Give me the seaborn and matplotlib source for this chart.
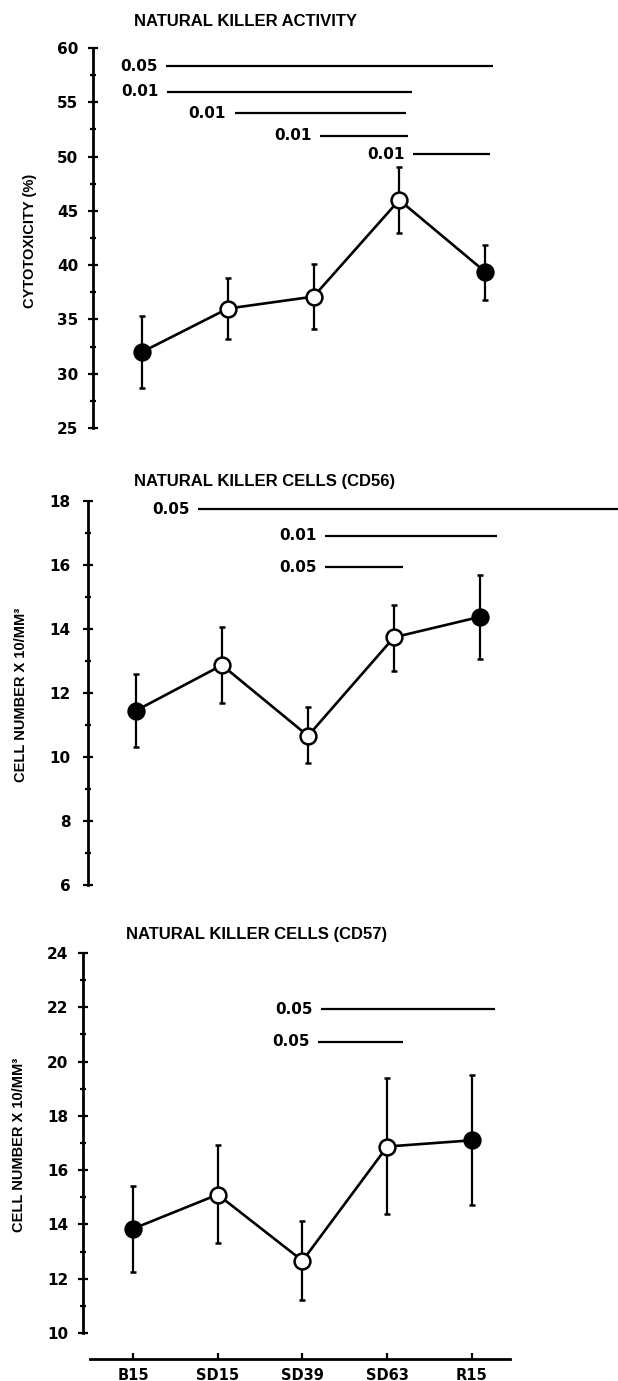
import matplotlib
matplotlib.use("Agg")
import matplotlib.pyplot as plt
from matplotlib import font_manager
from matplotlib.ticker import MultipleLocator
import seaborn as sns
import pandas as pd

# ---------------- data ----------------
categories = ["B15", "SD15", "SD39", "SD63", "R15"]
filled = [True, False, False, False, True]

nk_activity = [32.0, 36.0, 37.1, 46.0, 39.4]
nk_activity_lo = [28.7, 33.2, 34.1, 43.0, 36.8]
nk_activity_hi = [35.3, 38.8, 40.1, 49.0, 41.9]

cd56 = [11.45, 12.87, 10.66, 13.74, 14.38]
cd56_lo = [10.3, 11.7, 9.8, 12.7, 13.05]
cd56_hi = [12.6, 14.05, 11.55, 14.75, 15.7]

cd57 = [13.84, 15.1, 12.66, 16.87, 17.1]
cd57_lo = [12.23, 13.3, 11.2, 14.37, 14.73]
cd57_hi = [15.4, 16.93, 14.12, 19.39, 19.5]

# significance bars: p label, level, start and end (in category units)
top_sig_p = ["0.05", "0.01", "0.01", "0.01", "0.01"]
top_sig_y = [58.3, 55.95, 54.0, 51.9, 50.2]
top_sig_x0 = [0.28, 0.29, 1.08, 2.08, 3.16]
top_sig_x1 = [4.09, 3.15, 3.08, 3.10, 4.06]

mid_sig_p = ["0.05", "0.01", "0.05"]
mid_sig_y = [17.75, 16.92, 15.93]
mid_sig_x0 = [0.72, 2.2, 2.2]
mid_sig_x1 = [5.6, 4.2, 3.1]

bot_sig_p = ["0.05", "0.05"]
bot_sig_y = [21.93, 20.73]
bot_sig_x0 = [2.22, 2.18]
bot_sig_x1 = [4.27, 3.19]

titles = ["NATURAL KILLER ACTIVITY", "NATURAL KILLER CELLS (CD56)", "NATURAL KILLER CELLS (CD57)"]
ylabels = ["CYTOTOXICITY (%)", "CELL NUMBER X 10/MM\u00b3", "CELL NUMBER X 10/MM\u00b3"]

# ---------------- style ----------------
sns.set_theme(style="white")
names = {f.name for f in font_manager.fontManager.ttflist}
narrow = "Liberation Sans Narrow" if "Liberation Sans Narrow" in names else "Liberation Sans"
plt.rcParams["font.family"] = ["DejaVu Sans"]
plt.rcParams["font.weight"] = "bold"
plt.rcParams["text.color"] = "black"
plt.rcParams["axes.labelcolor"] = "black"
plt.rcParams["xtick.color"] = "black"
plt.rcParams["ytick.color"] = "black"

W, H = 618, 1381
fig = plt.figure(figsize=(W / 100, H / 100), dpi=100)
fig.patch.set_facecolor("white")

panels = [
    dict(ax_x=93, x0=142, sp=85.75, top=48, bot=428, ylim=(25, 60), major=5, minor=2.5,
         vals=nk_activity, lo=nk_activity_lo, hi=nk_activity_hi,
         sp_p=top_sig_p, sp_y=top_sig_y, sp_x0=top_sig_x0, sp_x1=top_sig_x1,
         title_xy=(245, 22), ylab_xy=(30, 241), tickpad=7),
    dict(ax_x=88, x0=136, sp=86.0, top=501, bot=885, ylim=(6, 18), major=2, minor=1,
         vals=cd56, lo=cd56_lo, hi=cd56_hi,
         sp_p=mid_sig_p, sp_y=mid_sig_y, sp_x0=mid_sig_x0, sp_x1=mid_sig_x1,
         title_xy=(265, 482), ylab_xy=(21, 695), tickpad=9),
    dict(ax_x=83, x0=133, sp=84.75, top=953, bot=1333, ylim=(10, 24), major=2, minor=1,
         vals=cd57, lo=cd57_lo, hi=cd57_hi,
         sp_p=bot_sig_p, sp_y=bot_sig_y, sp_x0=bot_sig_x0, sp_x1=bot_sig_x1,
         title_xy=(257, 935), ylab_xy=(19, 1145), tickpad=7),
]

for i, p in enumerate(panels):
    left = p["ax_x"] / W
    width = (W - p["ax_x"]) / W
    bottom = 1 - p["bot"] / H
    height = (p["bot"] - p["top"]) / H
    ax = fig.add_axes([left, bottom, width, height])
    ax.set_facecolor("none")

    xlo = (p["ax_x"] - p["x0"]) / p["sp"]
    xhi = (W - p["x0"]) / p["sp"]
    ax.set_xlim(xlo, xhi)
    ax.set_ylim(*p["ylim"])

    pos = list(range(len(categories)))
    df = pd.DataFrame({"pos": pos, "val": p["vals"], "filled": filled})

    yerr = [[v - l for v, l in zip(p["vals"], p["lo"])],
            [h - v for v, h in zip(p["vals"], p["hi"])]]
    ax.errorbar(pos, p["vals"], yerr=yerr, fmt="none", ecolor="black",
                elinewidth=1.6, capsize=2.2, capthick=1.8, zorder=2, clip_on=False)
    sns.lineplot(data=df, x="pos", y="val", color="black", linewidth=1.9,
                 ax=ax, zorder=3, legend=False)
    for f, sub in df.groupby("filled"):
        sns.scatterplot(data=sub, x="pos", y="val", ax=ax, s=130,
                        color="black" if f else "white", edgecolor="black",
                        linewidth=1.8, zorder=4, legend=False, clip_on=False)

    for lab, yy, a, b in zip(p["sp_p"], p["sp_y"], p["sp_x0"], p["sp_x1"]):
        ax.plot([a, b], [yy, yy], color="black", linewidth=1.6, clip_on=False,
                solid_capstyle="butt")
        ax.text(a - 0.1, yy, lab, ha="right", va="center", fontsize=11,
                fontweight="bold", family=["DejaVu Sans"], color="black")

    for s in ["top", "right"]:
        ax.spines[s].set_visible(False)
    ax.spines["left"].set_linewidth(2.0)
    ax.spines["left"].set_color("black")

    ax.yaxis.set_major_locator(MultipleLocator(p["major"]))
    ax.yaxis.set_minor_locator(MultipleLocator(p["minor"]))
    ax.tick_params(axis="y", which="major", left=True, direction="inout", length=7,
                   width=1.6, labelsize=11, pad=p["tickpad"], colors="black")
    ax.tick_params(axis="y", which="minor", left=True, direction="inout", length=4,
                   width=1.6, colors="black")
    for t in ax.get_yticklabels():
        t.set_fontweight("bold")

    if i < 2:
        ax.spines["bottom"].set_visible(False)
        ax.set_xticks([])
    else:
        ax.spines["bottom"].set_position(("outward", 19))
        ax.spines["bottom"].set_linewidth(2.0)
        ax.spines["bottom"].set_color("black")
        ax.spines["bottom"].set_bounds((90 - p["x0"]) / p["sp"], (510 - p["x0"]) / p["sp"])
        ax.set_xticks(pos)
        ax.set_xticklabels(categories, fontweight="bold")
        ax.tick_params(axis="x", which="major", bottom=True, direction="in", length=4,
                       width=1.6, labelsize=10.5, pad=6, colors="black")
    ax.set_xlabel("")
    ax.set_ylabel("")

    tx, ty = p["title_xy"]
    fig.text(tx / W, 1 - ty / H, titles[i], ha="center", va="center",
             fontsize=12, fontweight="bold", family=[narrow, "DejaVu Sans"], color="black")
    lx, ly = p["ylab_xy"]
    fig.text(lx / W, 1 - ly / H, ylabels[i], ha="center", va="center", rotation=90,
             fontsize=10.5, fontweight="bold", family=[narrow, "DejaVu Sans"], color="black")

fig.savefig("out.png", dpi=100, facecolor="white")
